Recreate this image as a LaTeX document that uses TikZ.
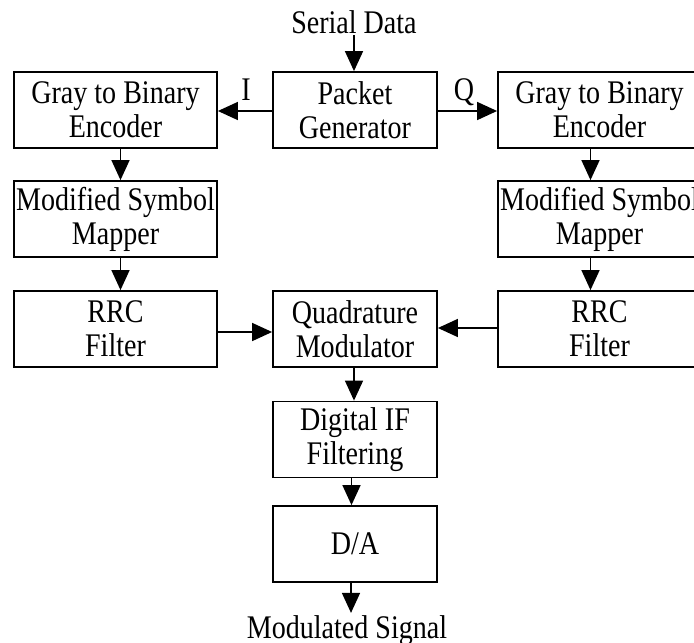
\documentclass[tikz,border=0pt]{standalone}
\usepackage{fontspec}
\setmainfont{Liberation Serif}[FakeStretch=0.85]
\usetikzlibrary{arrows.meta}
\begin{document}
\begin{tikzpicture}[x=1pt,y=1pt,
  every node/.style={font=\fontsize{33}{34}\selectfont},
  blk/.style={draw, line width=1.8pt, align=center, inner sep=0pt, minimum height=76pt},
  wide/.style={blk, minimum width=203pt},
  narrow/.style={blk, minimum width=164pt},
  lbl/.style={inner sep=2pt, anchor=base},
  arr/.style={-{Triangle[length=20pt,width=18pt]}, line width=1.5pt}]
\useasboundingbox (0,0) rectangle (694,-643);

% processing blocks
\node[wide]   (gbl)  at (115.5,-110)   {Gray to Binary\\Encoder};
\node[narrow] (pkt)  at (355,-110)     {Packet\\Generator};
\node[wide]   (gbr)  at (599.5,-110)   {Gray to Binary\\Encoder};
\node[wide]   (msl)  at (115.5,-219)   {Modified Symbol\\Mapper};
\node[wide]   (msr)  at (599.5,-219)   {Modified Symbol\\Mapper};
\node[wide]   (rrcl) at (115.5,-329)   {RRC\\Filter};
\node[narrow] (quad) at (355,-329)     {Quadrature\\Modulator};
\node[wide]   (rrcr) at (599.5,-329)   {RRC\\Filter};
\node[narrow] (dif)  at (355,-439.5)   {Digital IF\\Filtering};
\node[narrow] (da)   at (355,-544)     {D/A};

% input, output and branch labels
\node[lbl] (sd)  at (354,-33)  {Serial Data};
\node[lbl] (ms)  at (347,-638) {Modulated Signal};
\node[lbl] (lbi) at (246,-100) {I};
\node[lbl] (lbq) at (464,-100) {Q};

% signal flow
\draw[arr] ([yshift=-2pt]sd.base) -- (sd.base |- pkt.north);
\draw[arr] ([yshift=-1pt]pkt.west) -- ([yshift=-1pt]gbl.east);
\draw[arr] ([yshift=-1pt]pkt.east) -- ([yshift=-1pt]gbr.west);
\draw[arr] ([xshift=5pt]gbl.south) -- ([xshift=5pt]msl.north);
\draw[arr] ([xshift=5pt]msl.south) -- ([xshift=5pt]rrcl.north);
\draw[arr] ([xshift=-9pt]gbr.south) -- ([xshift=-9pt]msr.north);
\draw[arr] ([xshift=-9pt]msr.south) -- ([xshift=-9pt]rrcr.north);
\draw[arr] ([yshift=-3pt]rrcl.east) -- ([yshift=-3pt]quad.west);
\draw[arr] ([yshift=1pt]rrcr.west) -- ([yshift=1pt]quad.east);
\draw[arr] ([xshift=-1pt]quad.south) -- ([xshift=-1pt]dif.north);
\draw[arr] ([xshift=-3.5pt]dif.south) -- ([xshift=-3.5pt]da.north);
\draw[arr] ([xshift=-4pt]da.south) -- ([xshift=-4pt]da.south |- ms.north);
\end{tikzpicture}
\end{document}
